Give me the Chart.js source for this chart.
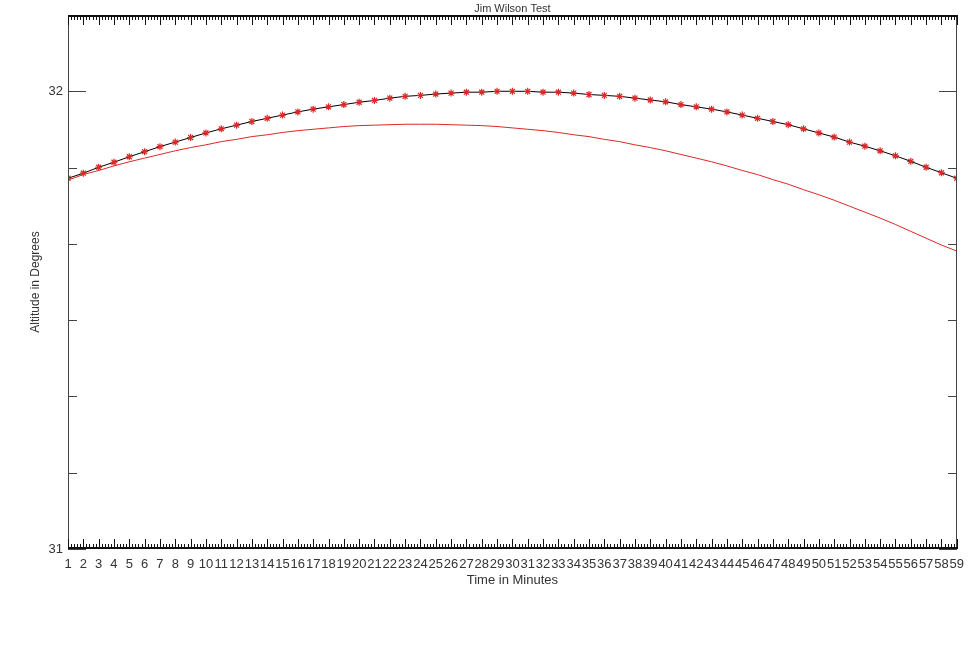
<!DOCTYPE html>
<html>
<head>
<meta charset="utf-8">
<script src="https://cdn.jsdelivr.net/npm/chart.js@4"></script>
<style>
html,body{margin:0;padding:0;background:#fff;}
canvas{display:block;}
</style>
</head>
<body>
<canvas id="c" width="972" height="648"></canvas>
<script>
// ---- data ----
const minutes = [1,2,3,4,5,6,7,8,9,10,11,12,13,14,15,16,17,18,19,20,21,22,23,24,25,26,27,28,29,30,
  31,32,33,34,35,36,37,38,39,40,41,42,43,44,45,46,47,48,49,50,51,52,53,54,55,56,57,58,59];

const computedAlt = [31.810,31.821,31.834,31.845,31.857,31.868,31.879,31.889,31.899,31.909,
  31.918,31.926,31.934,31.941,31.948,31.955,31.961,31.966,31.971,31.976,
  31.980,31.985,31.989,31.991,31.994,31.996,31.998,31.998,32.000,32.000,
  32.000,31.998,31.998,31.996,31.993,31.991,31.989,31.985,31.981,31.977,
  31.971,31.966,31.961,31.955,31.948,31.941,31.934,31.927,31.918,31.909,
  31.900,31.889,31.880,31.870,31.859,31.847,31.834,31.822,31.810];

const predictedAlt = [31.806,31.818,31.827,31.837,31.846,31.854,31.862,31.870,31.877,31.883,
  31.890,31.895,31.901,31.905,31.910,31.914,31.917,31.920,31.923,31.925,
  31.926,31.927,31.928,31.928,31.928,31.927,31.926,31.925,31.923,31.920,
  31.917,31.914,31.910,31.905,31.901,31.895,31.890,31.883,31.877,31.870,
  31.862,31.854,31.846,31.837,31.827,31.818,31.807,31.797,31.785,31.774,
  31.762,31.749,31.736,31.723,31.709,31.694,31.679,31.664,31.651];

const xTickLabels = ['1','2','3','4','5','6','7','8','9','10','11','12','13','14','15','16','17','18','19','20',
  '21','22','23','24','25','26','27','28','29','30','31','32','33','34','35','36','37','38','39','40',
  '41','42','43','44','45','46','47','48','49','50','51','52','53','54','55','56','57','58','59'];
const yTickValues = [31, 32];
const yTickLabels = ['31', '32'];
const yMinorTickValues = [31 + 1/6, 31 + 2/6, 31 + 3/6, 31 + 4/6, 31 + 5/6];
const yMin = 31, yMax = 32 + 1/6;
const xMinorDivisions = 5;

// ---- styling ----
const RED = 'rgb(222,40,40)';
const AXIS = '#111';
const SIDE = '#444';
const TEXT = '#333';
const FONT = 'Liberation Sans, Arial, sans-serif';

// draws IDL-style frame with inward ticks using the chart's scales
const frameTicks = {
  id: 'frameTicks',
  afterDraw(chart) {
    const {ctx, chartArea} = chart;
    const L = Math.round(chartArea.left), R = Math.round(chartArea.right);
    const T = Math.round(chartArea.top), B = Math.round(chartArea.bottom);
    const xs = chart.scales.x, ys = chart.scales.y;
    ctx.save();
    ctx.lineWidth = 1;
    // left / right axis lines
    ctx.strokeStyle = SIDE;
    ctx.beginPath();
    ctx.moveTo(L + 0.5, T); ctx.lineTo(L + 0.5, B);
    ctx.moveTo(R - 0.5, T); ctx.lineTo(R - 0.5, B);
    ctx.stroke();
    // top / bottom axis lines (slightly heavier)
    ctx.strokeStyle = AXIS;
    ctx.beginPath();
    ctx.moveTo(L, T + 0.5); ctx.lineTo(R, T + 0.5);
    ctx.moveTo(L, T + 1.5); ctx.lineTo(R, T + 1.5);
    ctx.moveTo(L, B - 0.5); ctx.lineTo(R, B - 0.5);
    ctx.moveTo(L, B - 1.5); ctx.lineTo(R, B - 1.5);
    ctx.stroke();
    const xMajorLen = 10, xMinorLen = 5, yMajorLen = 18, yMinorLen = 9;
    ctx.beginPath();
    // x ticks (bottom and top)
    for (let i = 0; i < minutes.length; i++) {
      const px = Math.round(xs.getPixelForValue(minutes[i])) + 0.5;
      ctx.moveTo(px, B); ctx.lineTo(px, B - xMajorLen);
      ctx.moveTo(px, T); ctx.lineTo(px, T + xMajorLen);
      if (i < minutes.length - 1) {
        const step = (minutes[i + 1] - minutes[i]) / xMinorDivisions;
        for (let k = 1; k < xMinorDivisions; k++) {
          const mx = Math.round(xs.getPixelForValue(minutes[i] + k * step)) + 0.5;
          ctx.moveTo(mx, B); ctx.lineTo(mx, B - xMinorLen);
          ctx.moveTo(mx, T); ctx.lineTo(mx, T + xMinorLen);
        }
      }
    }
    ctx.stroke();
    // y ticks (left and right)
    ctx.strokeStyle = SIDE;
    ctx.beginPath();
    yTickValues.forEach(v => {
      const py = Math.round(ys.getPixelForValue(v)) + 0.5;
      ctx.moveTo(L, py); ctx.lineTo(L + yMajorLen, py);
      ctx.moveTo(R, py); ctx.lineTo(R - yMajorLen, py);
    });
    yMinorTickValues.forEach(v => {
      const py = Math.round(ys.getPixelForValue(v)) + 0.5;
      ctx.moveTo(L, py); ctx.lineTo(L + yMinorLen, py);
      ctx.moveTo(R, py); ctx.lineTo(R - yMinorLen, py);
    });
    ctx.stroke();
    ctx.restore();
  }
};

const toXY = (arr) => arr.map((v, i) => ({x: minutes[i], y: v}));

new Chart(document.getElementById('c'), {
  type: 'line',
  data: {
    datasets: [
      {
        label: 'points',
        data: toXY(computedAlt),
        showLine: false,
        pointStyle: 'star',
        pointRadius: 3.5,
        pointBorderColor: RED,
        pointBackgroundColor: RED,
        pointBorderWidth: 1.2,
        order: 0
      },
      {
        label: 'computed',
        data: toXY(computedAlt),
        borderColor: '#000',
        borderWidth: 1,
        pointRadius: 0,
        tension: 0,
        order: 1
      },
      {
        label: 'predicted',
        data: toXY(predictedAlt),
        borderColor: RED,
        borderWidth: 1,
        pointRadius: 0,
        tension: 0,
        order: 2
      }
    ]
  },
  options: {
    responsive: false,
    animation: false,
    devicePixelRatio: 1,
    layout: {padding: {top: 0, right: 14, bottom: 0, left: 0}},
    plugins: {
      legend: {display: false},
      tooltip: {enabled: false},
      title: {
        display: true,
        text: 'Jim Wilson Test',
        fullSize: false,
        color: TEXT,
        font: {family: FONT, size: 11, weight: 'normal', lineHeight: 1},
        padding: {top: 3, bottom: 1}
      }
    },
    scales: {
      x: {
        type: 'linear',
        min: 1,
        max: 59,
        afterFit(s) { s.height = 99; },
        grid: {display: false, drawTicks: false},
        border: {display: false},
        ticks: {
          stepSize: 1,
          autoSkip: false,
          maxRotation: 0,
          minRotation: 0,
          padding: 8,
          color: TEXT,
          font: {family: FONT, size: 13},
          callback: (v) => { const i = minutes.indexOf(v); return i >= 0 ? xTickLabels[i] : ''; }
        },
        title: {
          display: true,
          text: 'Time in Minutes',
          color: TEXT,
          font: {family: FONT, size: 13},
          padding: {top: 0, bottom: 60}
        }
      },
      y: {
        type: 'linear',
        min: yMin,
        max: yMax,
        afterFit(s) { s.width = 68; },
        afterBuildTicks(s) { s.ticks = yTickValues.map(v => ({value: v})); },
        grid: {display: false, drawTicks: false},
        border: {display: false},
        ticks: {
          padding: 5,
          color: TEXT,
          font: {family: FONT, size: 13},
          callback: (v) => { const i = yTickValues.indexOf(v); return i >= 0 ? yTickLabels[i] : ''; }
        },
        title: {
          display: true,
          text: 'Altitude in Degrees',
          color: TEXT,
          font: {family: FONT, size: 12},
          padding: {top: 28, bottom: 0}
        }
      }
    }
  },
  plugins: [frameTicks]
});
</script>
</body>
</html>
